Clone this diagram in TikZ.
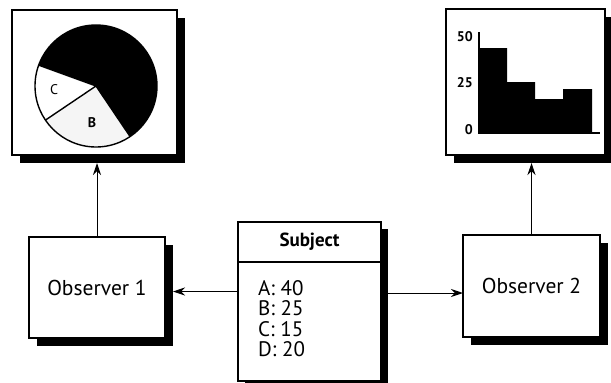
\documentclass[tikz,border=0pt]{standalone}
\usepackage{fontspec}
\setmainfont{PT Sans}
\usetikzlibrary{arrows.meta,calc}
\begin{document}
\begin{tikzpicture}[x=1pt,y=-1pt,
  box/.style={draw, line width=1.8pt, fill=white, inner sep=0pt, outer sep=0pt, anchor=north west},
  shadowbox/.style={fill=black, draw=none, inner sep=0pt, outer sep=0pt, anchor=north west},
  conn/.style={line width=1pt, -{Stealth[length=12pt,width=8pt]}},
  lbl/.style={font=\fontsize{21.5}{24}\selectfont},
  small/.style={font=\fontsize{14}{16}\selectfont\bfseries, inner sep=0pt}]
\useasboundingbox (0,0) rectangle (611,383);
\clip (0,0) rectangle (611,383);
% pie chart box
\node[shadowbox, minimum width=165pt, minimum height=145pt] (pieS) at (20,18) {};
\node[box, minimum width=165pt, minimum height=145pt] (pie) at (12,10) {};
% bar chart box
\node[shadowbox, minimum width=159pt, minimum height=146pt] (chartS) at (454,17) {};
\node[box, minimum width=159pt, minimum height=146pt] (chart) at (446,9) {};
% observers
\node[shadowbox, minimum width=136pt, minimum height=101pt] (obs1S) at (37,245) {};
\node[box, lbl, minimum width=136pt, minimum height=101pt] (obs1) at (29,237) {Observer 1};
\node[shadowbox, minimum width=137pt, minimum height=102pt] (obs2S) at (471,243) {};
\node[box, lbl, minimum width=137pt, minimum height=102pt] (obs2) at (463,235) {Observer 2};
% subject
\node[shadowbox, minimum width=143pt, minimum height=159pt] (subjS) at (245,229) {};
\node[box, minimum width=143pt, minimum height=40pt, font=\fontsize{19}{21}\selectfont\bfseries] (subjH) at (238,222) {Subject};
\node[box, minimum width=143pt, minimum height=119pt] (subjB) at (238,262) {};
\node[anchor=north west, align=left, inner sep=0pt, font=\fontsize{21}{20.5}\selectfont] (subjT) at (258,280) {A: 40\\B: 25\\C: 15\\D: 20};
% pie
\coordinate (pc) at (96,86);
\fill[black] (pc) -- ++(-304:61) arc[start angle=-304, end angle=-520, radius=61] -- cycle;
\fill[white] (pc) -- ++(-160:61) arc[start angle=-160, end angle=-214, radius=61] -- cycle;
\fill[gray!8] (pc) -- ++(-214:61) arc[start angle=-214, end angle=-304, radius=61] -- cycle;
\draw[line width=1.4pt] (pc) circle[radius=61];
\draw[line width=1.4pt] ($(pc)+(-160:61)$) -- (pc) -- ($(pc)+(-214:61)$);
\draw[line width=1.4pt] (pc) -- ($(pc)+(-304:61)$);
\node[inner sep=0pt, font=\fontsize{14}{16}\selectfont] (lc) at (54,90) {C};
\node[inner sep=0pt, font=\fontsize{14}{16}\selectfont\bfseries] (lb) at (92,123) {B};
% bar chart
\fill[black] (479,133) -- (479,48) -- (507,48) -- (507,82) -- (535,82) -- (535,99) -- (563,99) -- (563,89) -- (592,89) -- (592,133) -- cycle;
\draw[line width=1.2pt] (479,32) -- (479,133) -- (600,133);
\node[small, anchor=east] (l50) at (473,37) {50};
\node[small, anchor=east] (l25) at (473,83) {25};
\node[small, anchor=east] (l0) at (473,130) {0};
% connectors
\draw[conn] (obs1.north) -- (obs1.north |- pieS.south);
\draw[conn] (obs2.north) -- (obs2.north |- chartS.south);
\draw[conn] ([yshift=-4pt]obs1.east -| subjB.west) -- ([yshift=-4pt]obs1.east -| obs1S.east);
\draw[conn] ([yshift=-7pt]obs2.west -| subjS.east) -- ([yshift=-7pt]obs2.west);
\end{tikzpicture}
\end{document}
